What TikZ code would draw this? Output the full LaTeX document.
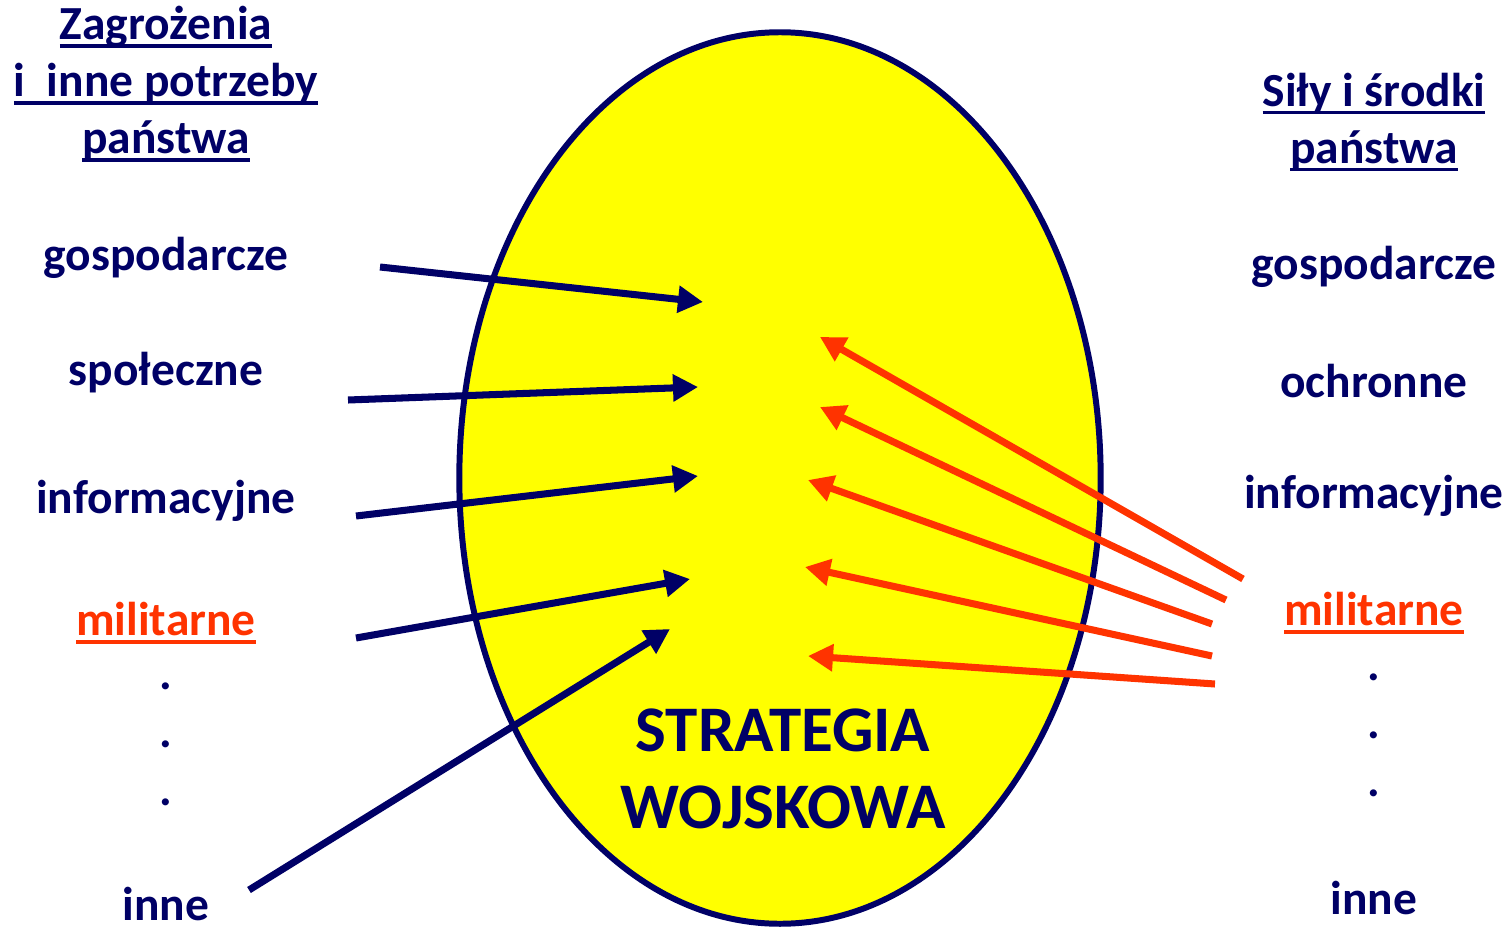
\documentclass[tikz,border=0pt]{standalone}
\usepackage{fontspec}
\setmainfont{Carlito}
\newcommand{\podkr}[1]{{\setbox0=\hbox{#1}\rlap{\vrule height -1.3pt depth 2.2pt width \wd0}\box0}}
\usetikzlibrary{arrows.meta, shapes.geometric, positioning}
\definecolor{granat}{RGB}{0,0,102}
\definecolor{czerwony}{RGB}{255,51,0}
\definecolor{zolty}{RGB}{255,255,0}
\tikzset{
  lbl/.style={text=granat, font=\fontsize{13.5}{16.2}\selectfont\bfseries, align=center},
  lblmil/.style={lbl, text=czerwony},
  kropka/.style={lbl, inner sep=0pt},
  zarrow/.style={draw=granat, line width=2pt, -{Triangle[length=0.25cm,width=0.26cm]}},
  sarrow/.style={draw=czerwony, line width=2pt, -{Triangle[length=0.25cm,width=0.26cm]}}
}
\begin{document}
\begin{tikzpicture}[x={(0.01cm,0)}, y={(0,-0.01cm)}]
\useasboundingbox (0,0) rectangle (1511,927);
\node[ellipse, draw=granat, fill=zolty, line width=1.7pt, minimum width=6.41cm, minimum height=8.91cm] (elipsa) at (780,478) {};
\node[lbl, font=\fontsize{18.5}{22}\selectfont\bfseries] (strat) at (783,769) {STRATEGIA\\WOJSKOWA};
% zagrozenia
\node[lbl] (l-tyt) at (166,84) {\podkr{Zagrożenia}\\\podkr{i~~inne potrzeby}\\\podkr{państwa}};
\node[lbl] (l-gosp) at (166,258) {gospodarcze};
\node[lbl] (l-spol) at (166,373) {społeczne};
\node[lbl] (l-info) at (166,501) {informacyjne};
\node[lblmil] (l-mil) at (166,623) {\podkr{militarne}};
\foreach \y in {686,744,802}
  \node[kropka] at (166,\y) {.};
\node[lbl] (l-inne) at (166,904) {inne};
% sily i srodki
\node[lbl] (r-tyt) at (1374,122) {\podkr{Siły i środki}\\\podkr{państwa}};
\node[lbl] (r-gosp) at (1374,267) {gospodarcze};
\node[lbl] (r-ochr) at (1374,381) {ochronne};
\node[lbl] (r-info) at (1374,496) {informacyjne};
\node[lblmil] (r-mil) at (1374,613) {\podkr{militarne}};
\foreach \y in {677,735,793}
  \node[kropka] at (1374,\y) {.};
\node[lbl] (r-inne) at (1374,898) {inne};
% strzalki
\foreach \n/\sx/\sy/\tx/\ty in {1/380/267/703/302, 2/348/400/698/387, 3/356/516/698/476, 4/356/638/690/579, 5/249/890/670/629}{
  \coordinate (z-\n-s) at (\sx,\sy);
  \coordinate (z-\n-t) at (\tx,\ty);
  \draw[zarrow] (z-\n-s) -- (z-\n-t);
}
\foreach \n/\sx/\sy/\tx/\ty in {1/1243/579/820/337, 2/1226/600/820/407, 3/1212/624/808/480, 4/1212/656/805/567, 5/1215/684/808/656}{
  \coordinate (s-\n-s) at (\sx,\sy);
  \coordinate (s-\n-t) at (\tx,\ty);
  \draw[sarrow] (s-\n-s) -- (s-\n-t);
}
\end{tikzpicture}
\end{document}
